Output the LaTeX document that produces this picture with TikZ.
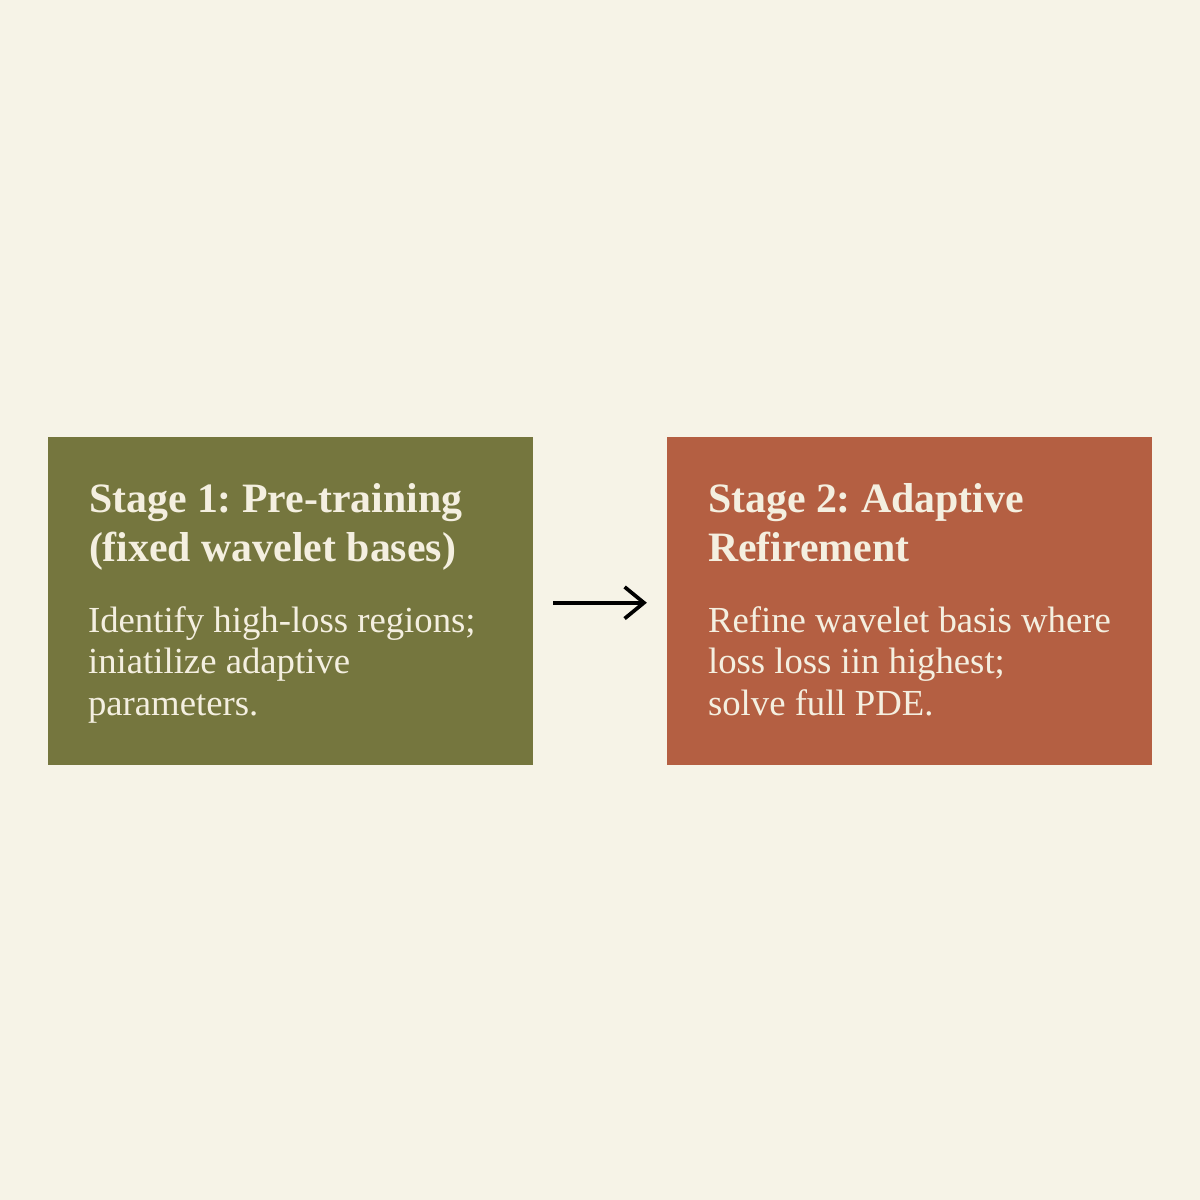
\documentclass[tikz,border=0pt]{standalone}
\usepackage{fontspec}
\setmainfont{Liberation Serif}
\usetikzlibrary{arrows.meta,positioning,calc}
\definecolor{bgcream}{HTML}{F6F3E7}
\definecolor{stageolive}{HTML}{75763E}
\definecolor{stagerust}{HTML}{B45F42}
\definecolor{labelcream}{HTML}{F4EFE0}
\frenchspacing
\tikzset{
stagebox/.style={rectangle,draw=none,minimum width=9.7cm,minimum height=6.56cm,inner sep=0pt},
stagetitle/.style={anchor=base west,inner sep=0pt,align=left,text=labelcream,font=\fontsize{23.8}{27.8}\selectfont\bfseries},
stagetext/.style={anchor=base west,inner sep=0pt,align=left,text=labelcream,font=\fontsize{20.9}{23.8}\selectfont},
arr/.style={-{Straight Barb[length=11pt,width=18pt]},line width=2.1pt},
}

\begin{document}
\begin{tikzpicture}[x=0.02cm,y=-0.02cm]
        \fill[bgcream] (0,0) rectangle (1200,1200);
        \useasboundingbox (0,0) rectangle (1200,1200);

        \node[stagebox, fill=stageolive] (s1) at (290.5,601) {};
        \node[stagebox, fill=stagerust] (s2) at (909.5,601) {};

        % base anchor sits on the last line
        \node[stagetitle] (s1title) at ($(s1.north west)+(41,125)$)
            {Stage 1: Pre-training\\(fixed wavelet bases)};
        \node[stagetext] (s1text) at ($(s1.north west)+(40,279)$)
            {Identify high-loss regions;\\iniatilize adaptive\\parameters.};

        \node[stagetitle] (s2title) at ($(s2.north west)+(41,125)$)
            {Stage 2: Adaptive\\Refirement};
        \node[stagetext] (s2text) at ($(s2.north west)+(41,279)$)
            {Refine wavelet basis where\\loss loss iin highest;\\solve full PDE.};

        \draw[arr, shorten <=11.3pt, shorten >=11.3pt] ([yshift=-1pt]s1.east) -- ([yshift=-1pt]s2.west);
    \end{tikzpicture}
\end{document}
